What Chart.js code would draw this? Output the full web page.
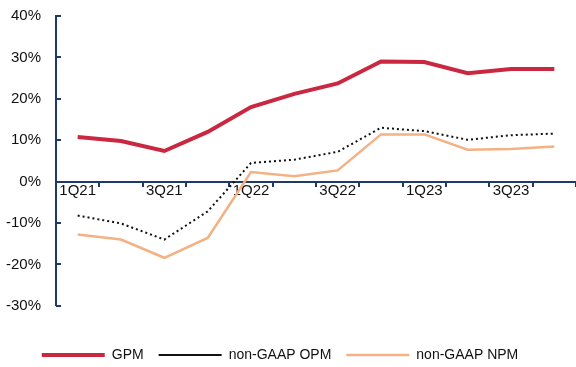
<!DOCTYPE html>
<html>
<head>
<meta charset="utf-8">
<script src="https://cdn.jsdelivr.net/npm/chart.js@4/dist/chart.umd.min.js"></script>
<style>
  html, body { margin: 0; padding: 0; background: #fff; }
  #wrap { width: 576px; height: 367px; }
</style>
</head>
<body>
<div id="wrap"><canvas id="c" width="576" height="367"></canvas></div>
<script>
// Quarterly margins, in percent
const quarters = ['1Q21', '2Q21', '3Q21', '4Q21', '1Q22', '2Q22', '3Q22', '4Q22', '1Q23', '2Q23', '3Q23', '4Q23'];
const gpm = [10.8, 9.8, 7.4, 12.0, 18.0, 21.2, 23.7, 29.0, 28.9, 26.2, 27.2, 27.2];
const opm = [-8.2, -10.1, -14.0, -7.2, 4.5, 5.3, 7.2, 13.0, 12.2, 10.1, 11.2, 11.6];
const npm = [-12.8, -14.0, -18.4, -13.6, 2.3, 1.3, 2.7, 11.4, 11.4, 7.7, 7.9, 8.5];
const yTicks = [-30, -20, -10, 0, 10, 20, 30, 40];

const AXIS = '#1F3A68';

Chart.defaults.font.family = "'Liberation Sans', Arial, sans-serif";
Chart.defaults.font.size = 15;
Chart.defaults.color = '#111';

// small tick marks pointing into the plot from the left axis
const innerYTicks = {
  id: 'innerYTicks',
  afterDatasetsDraw(chart) {
    const y = chart.scales.y;
    const ctx = chart.ctx;
    ctx.save();
    ctx.strokeStyle = AXIS;
    ctx.lineWidth = 2;
    yTicks.forEach(v => {
      const py = Math.round(y.getPixelForValue(v));
      ctx.beginPath();
      ctx.moveTo(y.right, py);
      ctx.lineTo(y.right + 5, py);
      ctx.stroke();
    });
    ctx.restore();
  }
};

// nudge the legend row a little to the left of centre
const legendNudge = {
  id: 'legendNudge',
  afterLayout(chart) {
    const l = chart.legend;
    if (l) { l.left -= 8; l.right -= 8; }
  }
};

new Chart(document.getElementById('c'), {
  type: 'line',
  data: {
    labels: quarters,
    datasets: [
      { label: 'GPM', data: gpm, borderColor: '#CA2840', backgroundColor: '#CA2840',
        borderWidth: 4, pointRadius: 0, tension: 0 },
      { label: 'non-GAAP OPM', data: opm, borderColor: '#111', backgroundColor: '#111',
        borderWidth: 2, borderDash: [2, 3], pointRadius: 0, tension: 0 },
      { label: 'non-GAAP NPM', data: npm, borderColor: '#F4B183', backgroundColor: '#F4B183',
        borderWidth: 2.5, pointRadius: 0, tension: 0 }
    ]
  },
  options: {
    responsive: false,
    animation: false,
    devicePixelRatio: 1,
    layout: { padding: { top: 16, right: 0, left: 0, bottom: -5 } },
    plugins: {
      tooltip: { enabled: false },
      legend: {
        position: 'bottom',
        align: 'center',
        title: { display: true, text: '', font: { size: 1 }, padding: { top: 26, bottom: 0 } },
        labels: {
          usePointStyle: true,
          pointStyle: 'line',
          pointStyleWidth: 63,
          padding: 15,
          color: '#111',
          font: { size: 14 }
        }
      }
    },
    scales: {
      x: {
        type: 'category',
        position: { y: 0 },
        offset: true,
        grid: { display: true, offset: true, drawOnChartArea: false, drawTicks: true,
                tickLength: 4, color: AXIS, lineWidth: 2 },
        border: { display: true, color: AXIS, width: 2 },
        ticks: {
          autoSkip: false, maxRotation: 0, padding: -4, color: '#111',
          callback: (v, i) => (i % 2 === 0 ? quarters[i] : '')
        }
      },
      y: {
        min: -30, max: 40,
        afterFit: s => { s.width = 56; },
        afterBuildTicks: s => { s.ticks = yTicks.map(v => ({ value: v })); },
        grid: { display: false, drawTicks: true, tickLength: 15 },
        border: { display: true, color: AXIS, width: 2 },
        ticks: { padding: 0, color: '#111', callback: v => v + '%' }
      }
    }
  },
  plugins: [innerYTicks, legendNudge]
});
</script>
</body>
</html>
